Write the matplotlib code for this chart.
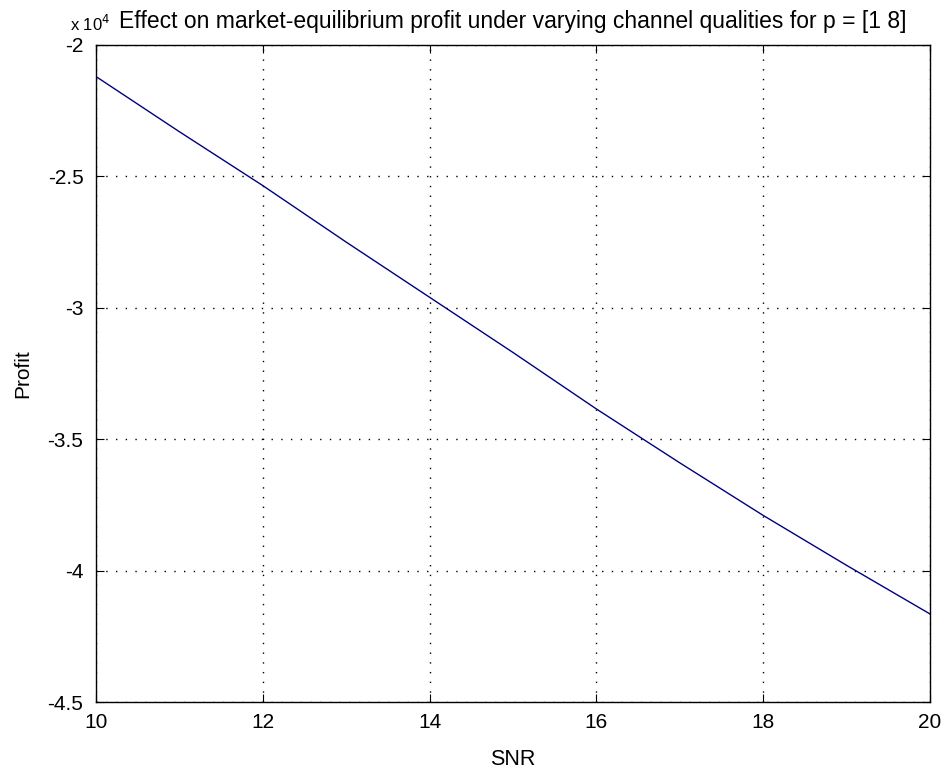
import matplotlib
matplotlib.use("Agg")
import matplotlib.pyplot as plt
from matplotlib.ticker import FuncFormatter

snr = [10, 11, 12, 13, 14, 15, 16, 17, 18, 19, 20]
profit = [-21200, -23300, -25350, -27500, -29600, -31700, -33850, -35900, -37900, -39800, -41650]
x_ticks = [10, 12, 14, 16, 18, 20]
y_ticks = [-45000, -40000, -35000, -30000, -25000, -20000]

plt.rcParams['font.family'] = ['Liberation Sans', 'DejaVu Sans']

fig = plt.figure(figsize=(9.44, 7.74), dpi=100)
ax = fig.add_axes([96/944, 1-702/774, (930-96)/944, (702-45)/774])
ax.plot(snr, profit, color='#000080', lw=1.0)
ax.set_xlim(10, 20)
ax.set_ylim(-45000, -20000)
ax.set_xticks(x_ticks)
ax.set_yticks(y_ticks)
ax.yaxis.set_major_formatter(FuncFormatter(lambda v, p: f"{v/1e4:g}"))
ax.grid(True, color='black', linestyle=(0, (1, 6)), linewidth=1.0)
ax.tick_params(direction='in', top=True, right=True, length=6, labelsize=15, width=0.8)
ax.tick_params(axis='x', pad=8)
ax.tick_params(axis='y', pad=9)
for s in ax.spines.values():
    s.set_linewidth(1.0)
ax.set_xlabel('SNR', fontsize=15.5, labelpad=12)
ax.set_ylabel('Profit', fontsize=15, labelpad=11)
ax.set_title('Effect on market-equilibrium profit under varying channel qualities for p = [1 8]',
             fontsize=16.5, pad=12)
fig.text(70/944, 1-24/774, r'x 10$^4$', fontsize=12, va='center', ha='left')
fig.savefig('out.png', dpi=100)
